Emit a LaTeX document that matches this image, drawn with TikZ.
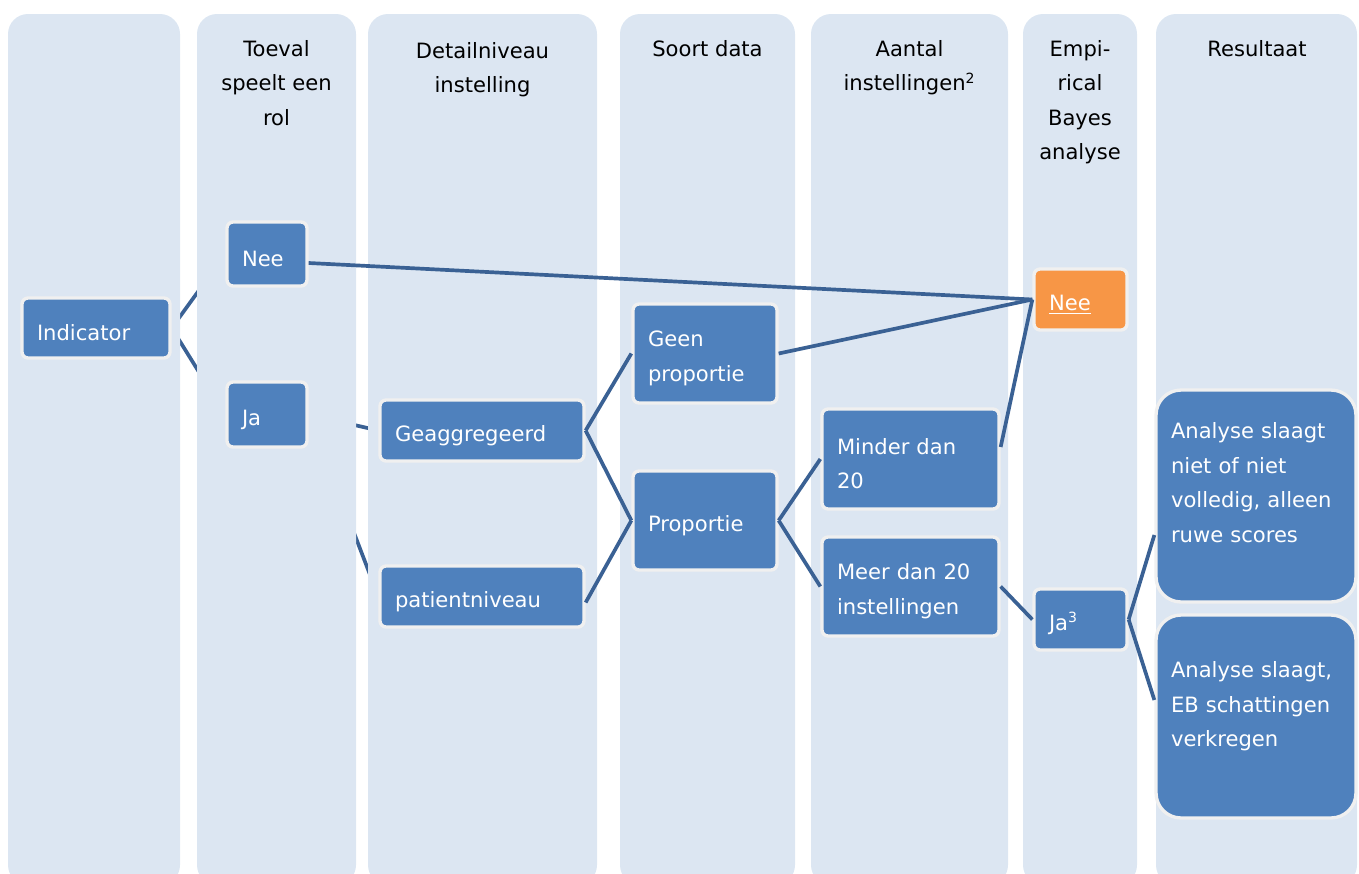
\documentclass[tikz,border=0pt]{standalone}
\usepackage{fontspec}
\setmainfont{DejaVu Sans}
\usepackage{xcolor}
\usepackage{tikz}
\usetikzlibrary{positioning}
\definecolor{lanefill}{HTML}{DCE6F2}
\definecolor{boxfill}{HTML}{4F81BD}
\definecolor{boxline}{HTML}{F0F0F0}
\definecolor{linkcol}{HTML}{3A6194}
\definecolor{orangefill}{HTML}{F79646}
\pgfdeclarelayer{under}
\pgfdeclarelayer{lanes}
\pgfsetlayers{under,lanes,main}
\tikzset{box/.style={rectangle,rounded corners=0.12cm,draw=boxline,line width=1.9pt,fill=boxfill,text=white,align=left,inner xsep=0.3cm,inner ysep=0.1cm,font=\fontsize{12}{19.8}\selectfont,execute at begin node={\rule{0pt}{14.5pt}}},
  lane/.style={fill=lanefill,rounded corners=0.4cm},
  head/.style={align=center,anchor=north,inner sep=0pt,font=\fontsize{12}{19.6}\selectfont},
  link/.style={draw=linkcol,line width=2.1pt}}

\begin{document}
\begin{tikzpicture}[x=0.02cm,y=-0.02cm]
    \useasboundingbox (0,0) rectangle (1359,873);

    \begin{pgfonlayer}{lanes}
    \fill[lane] (8,14) rectangle (180,885);
    \fill[lane] (197,14) rectangle (356,885);
    \fill[lane] (368,14) rectangle (597,885);
    \fill[lane] (620,14) rectangle (795,885);
    \fill[lane] (811,14) rectangle (1008,885);
    \fill[lane] (1023,14) rectangle (1137,885);
    \fill[lane] (1156,14) rectangle (1357,885);
    \end{pgfonlayer}

    \node[head] (h2) at (276.5,40) {Toeval\\speelt een\\rol};
    \node[head] (h3) at (482.5,42) {Detailniveau\\instelling};
    \node[head] (h4) at (707.5,40) {Soort data};
    \node[head] (h5) at (909.5,40) {Aantal\\instellingen\textsuperscript{2}};
    \node[head] (h6) at (1080,40) {Empi-\\rical\\Bayes\\analyse};
    \node[head] (h7) at (1257,40) {Resultaat};

    \node[box,text width=2.36cm,minimum height=1.2cm] (ind) at (96,328) {Indicator};
    \node[box,text width=1cm,minimum height=1.28cm] (nee1) at (267,254) {Nee};
    \node[box,text width=1cm,minimum height=1.3cm] (ja1) at (267,414.5) {Ja};
    \node[box,text width=3.48cm,minimum height=1.22cm] (agg) at (482,430.5) {Geaggregeerd};
    \node[box,text width=3.48cm,minimum height=1.22cm] (pat) at (482,596.5) {patientniveau};
    \node[box,text width=2.28cm,minimum height=1.98cm] (geen) at (705,353.5) {Geen\\proportie};
    \node[box,text width=2.28cm,minimum height=1.98cm] (prop) at (705,520.5) {Proportie};
    \node[box,text width=2.94cm,minimum height=2cm] (minder) at (910.5,459) {Minder dan\\20};
    \node[box,text width=2.94cm,minimum height=1.98cm] (meer) at (910.5,586.5) {Meer dan 20\\instellingen};
    \node[box,fill=orangefill,text width=1.26cm,minimum height=1.22cm] (nee2) at (1080.5,299.5) {\underline{Nee}};
    \node[box,text width=1.26cm,minimum height=1.22cm] (ja2) at (1080.5,619.5) {Ja\textsuperscript{3}};
    \node[box,rounded corners=0.5cm,text width=3.4cm,minimum height=4.24cm] (res1) at (1256,496) {Analyse slaagt\\niet of niet\\volledig, alleen\\ruwe scores\par\vspace*{0.72cm}};
    \node[box,rounded corners=0.5cm,text width=3.4cm,minimum height=4.06cm] (res2) at (1256,716.5) {Analyse slaagt,\\EB schattingen\\verkregen\par\vspace*{0.6cm}};

    % these run behind the lanes
    \begin{pgfonlayer}{under}
    \draw [link] (ind.east) to [] (nee1.west);
    \draw [link] (ind.east) to [] (ja1.west);
    \draw [link] (ja1.east) to [] (agg.west);
    \draw [link] (ja1.east) to [] (pat.west);
    \end{pgfonlayer}

    \draw [link] ([yshift=-0.18cm]nee1.east) to [] (nee2.west);
    \draw [link] (geen.east) to [] (nee2.west);
    \draw [link] ([yshift=0.24cm]minder.east) to [] (nee2.west);
    \draw [link] (agg.east) to [] (geen.west);
    \draw [link] (agg.east) to [] (prop.west);
    \draw [link] ([yshift=-0.12cm]pat.east) to [] (prop.west);
    \draw [link] (prop.east) to [] (minder.west);
    \draw [link] (prop.east) to [] (meer.west);
    \draw [link] (meer.east) to [] (ja2.west);
    \draw [link] (ja2.east) to [] ([yshift=-0.78cm]res1.west);
    \draw [link] (ja2.east) to [] ([yshift=0.33cm]res2.west);
\end{tikzpicture}
\end{document}
